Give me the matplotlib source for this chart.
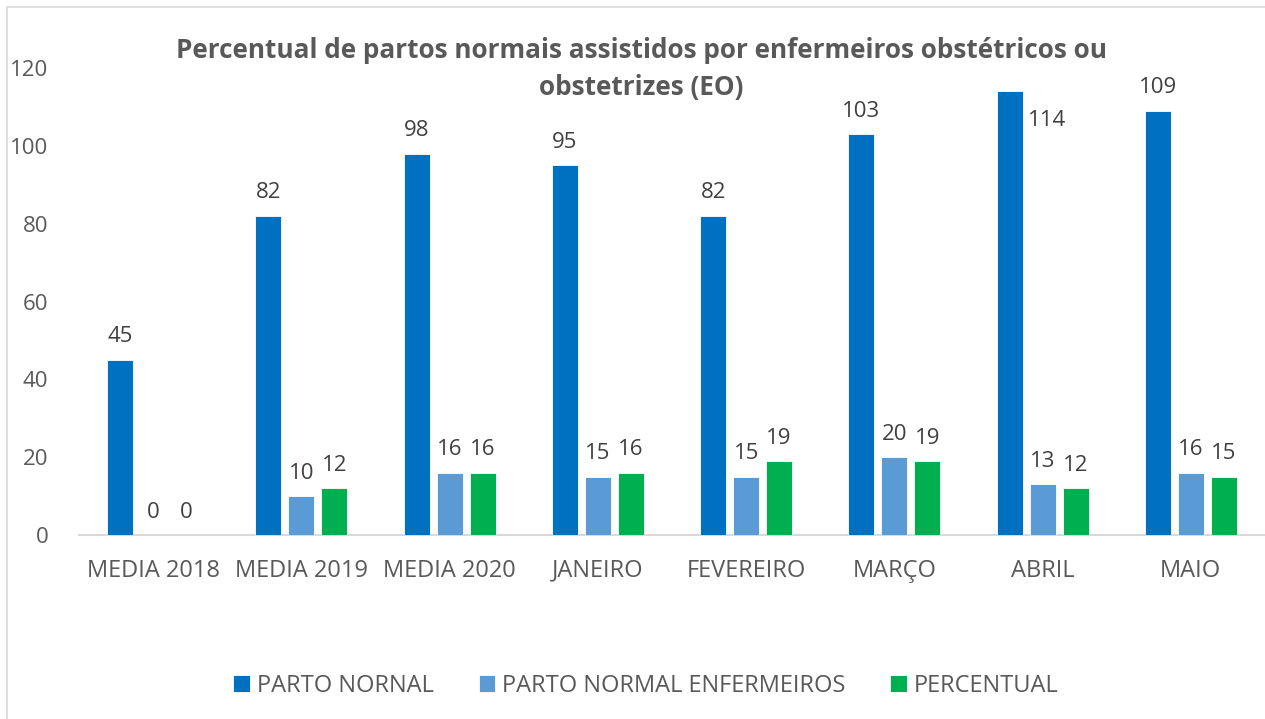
import matplotlib.pyplot as plt
from matplotlib.patches import Rectangle

categorias = ["MEDIA 2018", "MEDIA 2019", "MEDIA 2020", "JANEIRO", "FEVEREIRO", "MARÇO", "ABRIL", "MAIO"]
parto_normal = [45, 82, 98, 95, 82, 103, 114, 109]
parto_enfermeiros = [0, 10, 16, 15, 15, 20, 13, 16]
percentual = [0, 12, 16, 16, 19, 19, 12, 15]
series_nomes = ["PARTO NORNAL", "PARTO NORMAL ENFERMEIROS", "PERCENTUAL"]
yticks = [0, 20, 40, 60, 80, 100, 120]

cores = ["#0070C0", "#5B9BD5", "#00B050"]
cor_texto = "#595959"
cor_rotulo = "#404040"
fonte = "Open Sans"

plt.rcParams["font.family"] = [fonte, "DejaVu Sans"]

figura = plt.figure(figsize=(12.65, 7.19), dpi=100)
figura.patches.append(
    Rectangle((7 / 1265, -0.01), 1.1, (719 - 7) / 719 + 0.01,
              transform=figura.transFigure, fill=False, edgecolor="#d9d9d9", linewidth=1.2)
)

ax = figura.add_axes([79 / 1265, (719 - 535) / 719, 1186 / 1265, 467 / 719])

largura = 0.175
deslocamento = 0.222
xs = list(range(len(categorias)))
barras = []
for k, (valores, cor) in enumerate(zip([parto_normal, parto_enfermeiros, percentual], cores)):
    pos = [x + (k - 1) * deslocamento for x in xs]
    b = ax.bar(pos, valores, width=largura, color=cor, edgecolor="white", linewidth=0.6,
               label=series_nomes[k], zorder=3)
    barras.append(b)
    for x, v, i in zip(pos, valores, xs):
        if k == 0 and i == 6:
            # rotulo deslocado para a direita (como no original)
            ax.annotate(str(v), xy=(x, v), xytext=(27, -21), textcoords="offset points",
                        ha="center", va="center", fontsize=16, color=cor_rotulo)
        else:
            ax.annotate(str(v), xy=(x, v), xytext=(0, 9), textcoords="offset points",
                        ha="center", va="bottom", fontsize=16, color=cor_rotulo)

ax.set_xlim(-0.5, len(categorias) - 0.5)
ax.set_ylim(0, 120)
ax.set_yticks(yticks)
ax.set_xticks(xs)
ax.set_xticklabels(categorias)
ax.tick_params(axis="both", length=0, labelsize=16, labelcolor=cor_texto)
ax.tick_params(axis="x", pad=17, labelsize=17)
ax.tick_params(axis="y", pad=22)
for lado in ["left", "right", "top"]:
    ax.spines[lado].set_visible(False)
ax.spines["bottom"].set_color("#d9d9d9")
ax.spines["bottom"].set_linewidth(1.5)

figura.text(641 / 1265, 1 - 69 / 719,
            "Percentual de partos normais assistidos por enfermeiros obstétricos ou\nobstetrizes (EO)",
            ha="center", va="center", fontsize=18.8, fontweight="bold", color=cor_texto,
            linespacing=1.45)

figura.legend(handles=barras, labels=series_nomes, loc="center", bbox_to_anchor=(646 / 1265, 1 - 686 / 719),
              ncol=3, frameon=False, fontsize=17, labelcolor=cor_texto, handlelength=0.7,
              handleheight=0.7, handletextpad=0.3, columnspacing=1.9)

figura.savefig("out.png", dpi=100)
